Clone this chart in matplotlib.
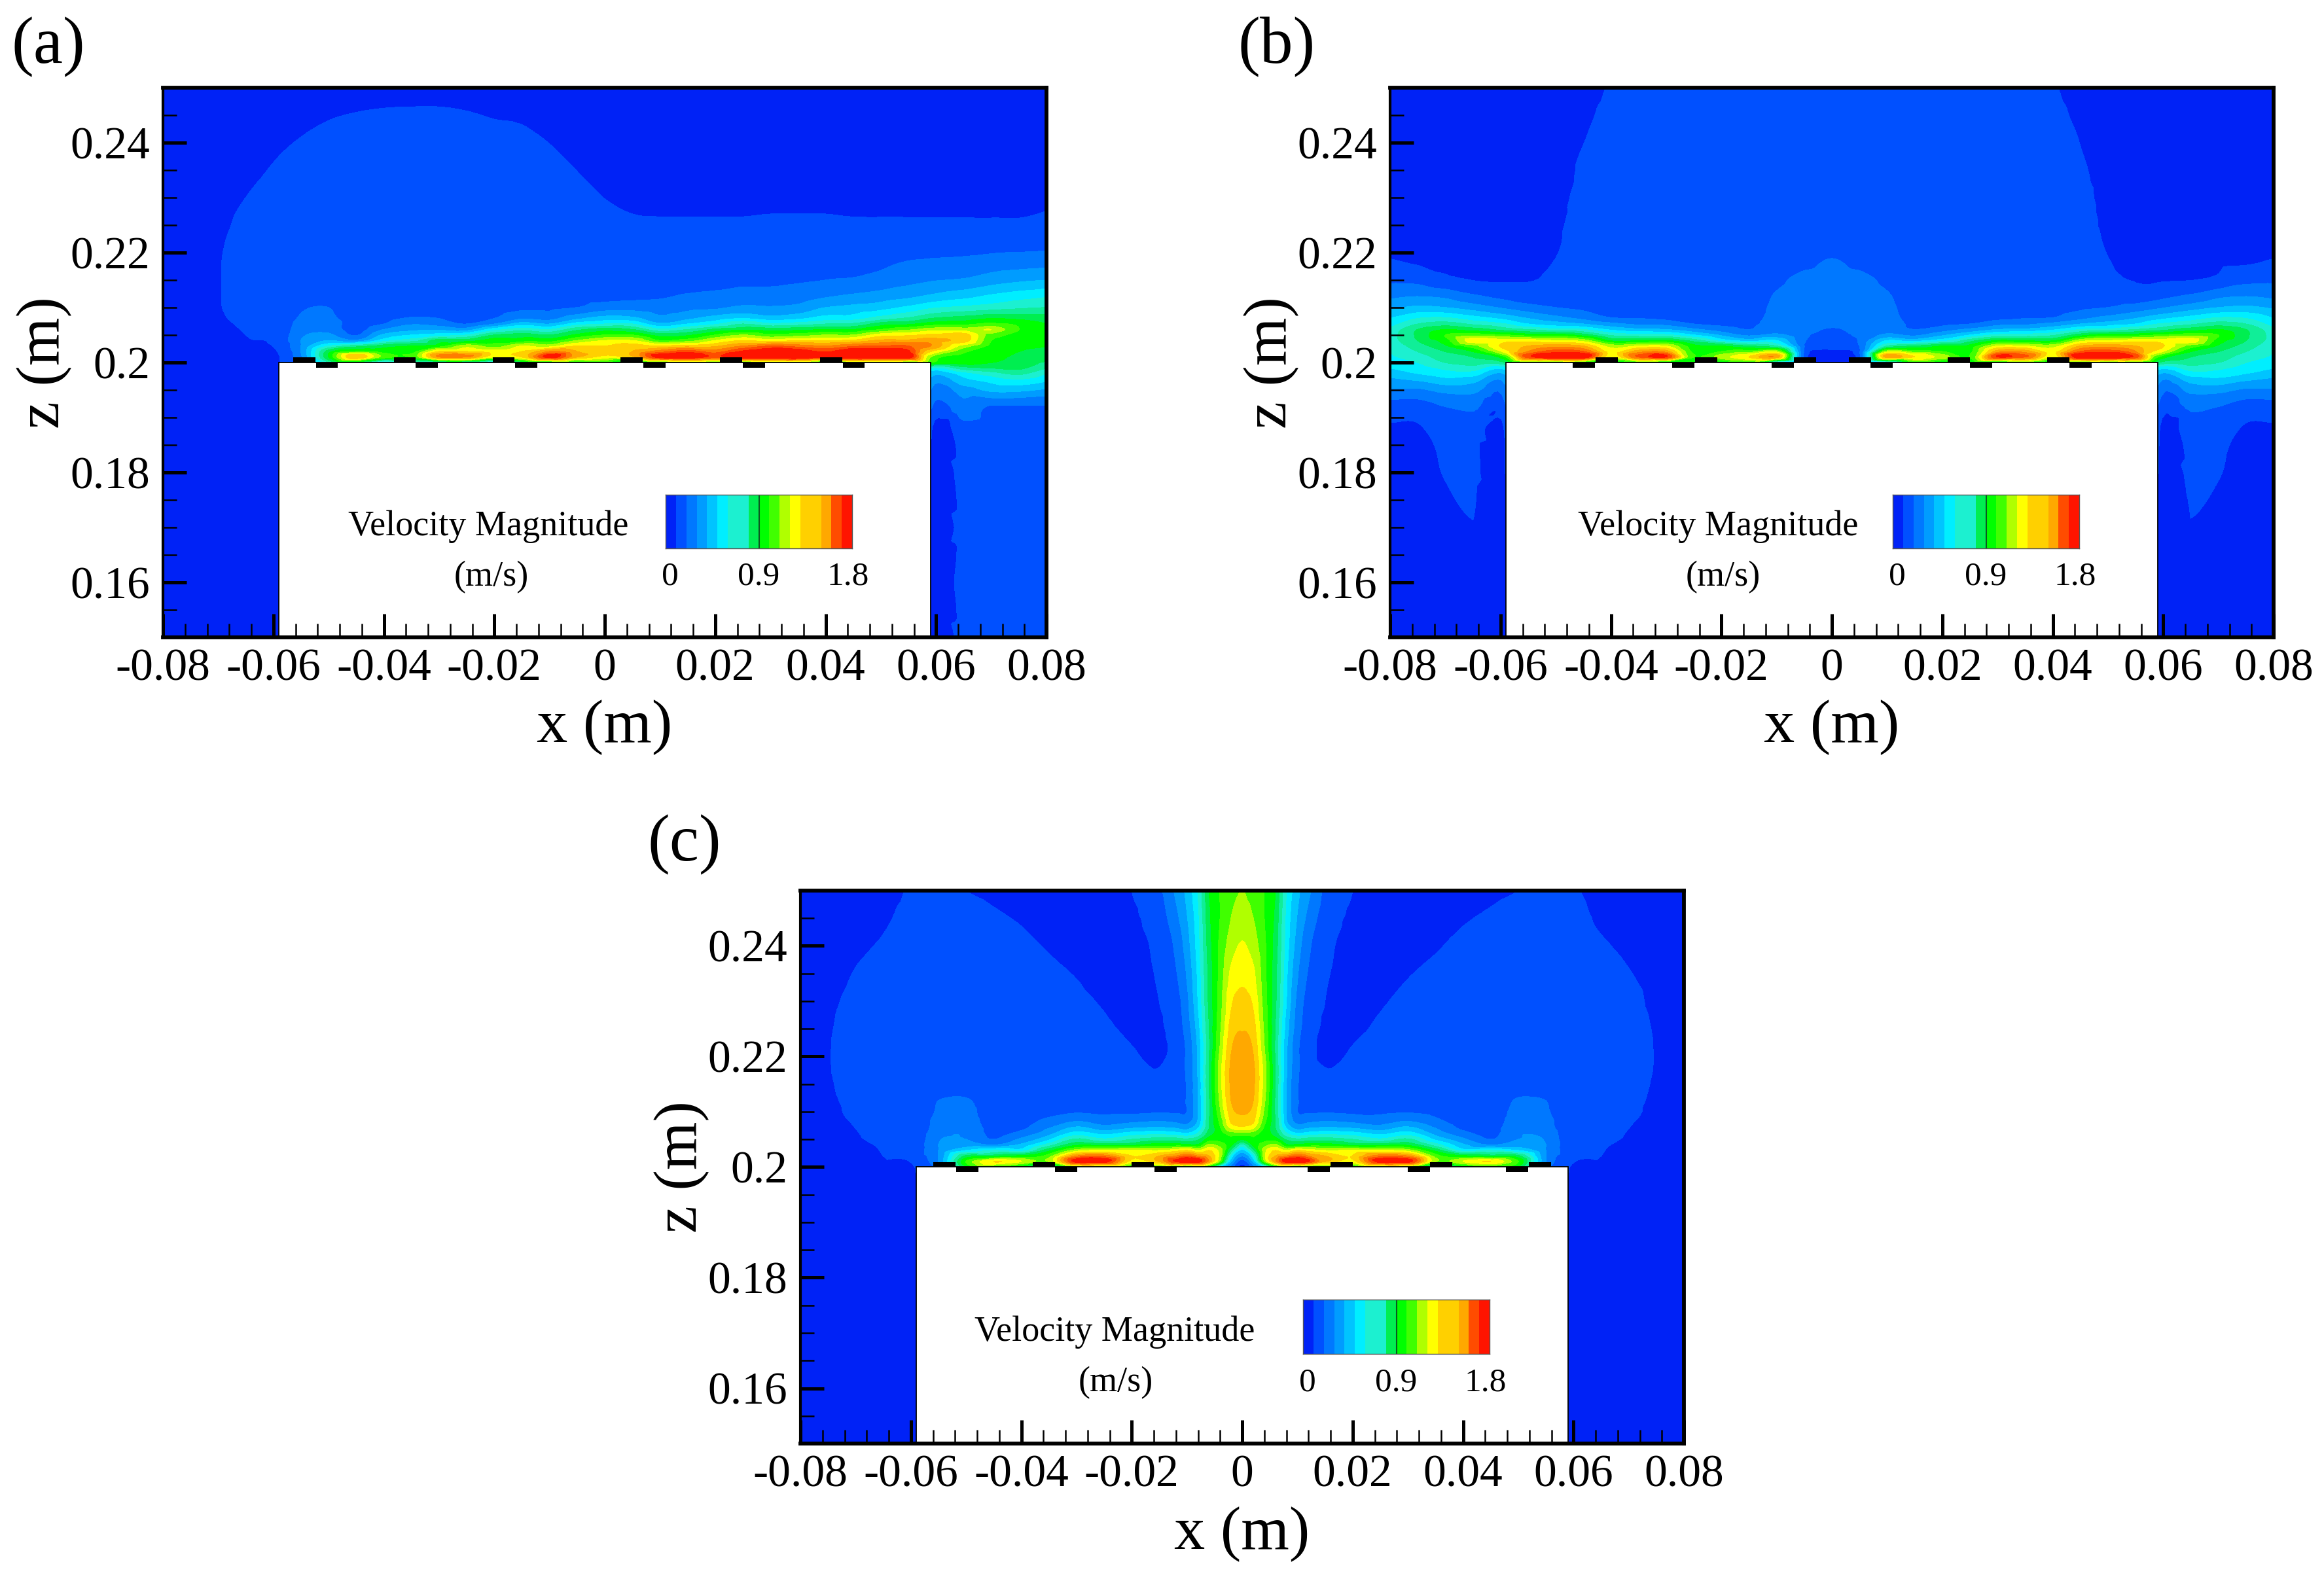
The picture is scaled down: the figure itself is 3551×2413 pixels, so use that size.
import numpy as np
import matplotlib
matplotlib.use('Agg')
import matplotlib.pyplot as plt
import matplotlib.tri as mtri
from matplotlib.colors import ListedColormap
from matplotlib.patches import Rectangle

plt.rcParams['font.family'] = ['Liberation Serif', 'DejaVu Serif']

# velocity bands (m/s), one colour per band
levels = [i / 10 for i in range(19)]
band_colors = ['#0022f6', '#0050ff', '#0078ff', '#009cff', '#00c4ff', '#00eeff',
               '#1cf0d0', '#10ee98', '#00ee50', '#00ff00', '#40ff00', '#b0ff00',
               '#ffff00', '#ffd000', '#ffa800', '#ff7c00', '#ff4c00', '#ff1400']

# heights above the plate, mm (z = 0.2 m + ...)
z_above = [0, 1, 2, 3, 4, 5, 6, 7, 8, 10, 12, 15, 18, 22, 26, 30, 35, 40, 45, 50]
z_below = [-1, -2, -3, -5, -8, -12, -20, -30, -40, -50]

# panel (a): columns of velocity, short columns keep their last value
x_a = [-80, -75, -70, -65, -59, -55, -50, -45, -40, -35, -30, -25, -20, -15, -10, -5, 0,
       5, 10, 15, 20, 25, 30, 35, 40, 45, 50, 55, 59, 65, 70, 75, 80]
vel_a = [
    [.05],
    [.05],
    [.05, .05, .055, .06, .07, .075, .08, .085, .09, .095, .095, .095, .095, .09, .08, .07, .06, .05],
    [.07, .08, .085, .09, .095, .1, .105, .11, .115, .12, .125, .13, .13, .125, .116, .1, .08, .06, .05],
    [.09, .095, .105, .12, .13, .135, .14, .14, .14, .14, .14, .145, .15, .15, .146, .13, .11, .09, .07, .05],
    [.25, .28, .3, .3, .3, .28, .25, .23, .21, .19, .16, .15, .15, .15, .15, .144, .124, .104, .084, .064],
    [.7, .9, .85, .6, .4, .32, .27, .25, .22, .2, .17, .15, .15, .15, .15, .15, .136, .116, .096, .076],
    [.85, 1.4, 1.0, .75, .32, .19, .15, .15, .15, .15, .15, .15, .15, .15, .15, .15, .142, .122, .102, .082],
    [.5, 1.05, .95, .85, .55, .42, .3, .2, .17, .15, .15, .15, .15, .15, .15, .15, .145, .125, .105, .085],
    [.6, 1.0, .95, .9, .65, .5, .37, .29, .21, .16, .15, .15, .15, .15, .15, .15, .146, .126, .106, .086],
    [.7, 1.5, 1.3, .95, .85, .55, .38, .26, .2, .16, .15, .15, .15, .15, .15, .15, .146, .126, .106, .086],
    [.7, 1.5, 1.3, 1.15, .85, .6, .35, .2, .17, .16, .15, .15, .15, .15, .15, .15, .143, .123, .103, .083],
    [.5, 1.2, 1.25, 1.05, .95, .8, .55, .3, .2, .16, .15, .15, .15, .15, .15, .15, .137, .117, .097, .077],
    [.8, 1.3, 1.3, 1.2, .95, .85, .65, .45, .29, .18, .16, .15, .15, .15, .15, .15, .133, .113, .093, .073],
    [.9, 1.75, 1.5, 1.15, .95, .8, .6, .4, .27, .18, .16, .15, .15, .15, .15, .139, .119, .099, .079, .059],
    [.9, 1.4, 1.4, 1.3, 1.1, .92, .77, .55, .38, .2, .17, .16, .15, .15, .135, .119, .099, .079, .059, .05],
    [1, 1.25, 1.35, 1.3, 1.2, 1.0, .85, .6, .45, .25, .17, .16, .15, .131, .115, .099, .079, .059, .05],
    [.8, 1.35, 1.4, 1.35, 1.2, 1.0, .8, .6, .43, .26, .18, .16, .136, .12, .104, .088, .068, .05],
    [1, 1.75, 1.55, 1.3, 1.0, .85, .62, .42, .33, .25, .19, .165, .14, .118, .102, .086, .066, .05],
    [1.05, 1.8, 1.65, 1.35, 1.05, .88, .7, .5, .38, .27, .21, .17, .14, .118, .102, .086, .066, .05],
    [1, 1.65, 1.55, 1.38, 1.2, 1.0, .82, .58, .45, .28, .22, .175, .145, .118, .102, .086, .066, .05],
    [1, 1.85, 1.72, 1.5, 1.3, 1.1, .87, .7, .5, .32, .24, .18, .15, .118, .102, .086, .066, .05],
    [1.05, 1.85, 1.8, 1.6, 1.25, 1.02, .85, .62, .45, .31, .24, .18, .15, .12, .104, .088, .068, .05],
    [1.1, 1.85, 1.78, 1.55, 1.28, 1.05, .87, .65, .48, .33, .25, .19, .155, .12, .104, .088, .068, .05],
    [.9, 1.75, 1.68, 1.5, 1.3, 1.1, .9, .7, .55, .4, .29, .2, .16, .12, .104, .088, .068, .05],
    [1.05, 1.85, 1.82, 1.58, 1.32, 1.1, .9, .72, .56, .43, .32, .21, .17, .12, .102, .086, .066, .05],
    [1.05, 1.85, 1.78, 1.6, 1.42, 1.25, 1.0, .85, .65, .46, .35, .23, .185, .125, .102, .086, .066, .05],
    [1, 1.78, 1.72, 1.6, 1.42, 1.28, 1.08, .88, .72, .52, .38, .27, .21, .13, .102, .086, .066, .05],
    [1, 1.1, 1.3, 1.5, 1.45, 1.32, 1.15, .95, .8, .58, .42, .29, .22, .14, .102, .086, .066, .05],
    [.95, .97, 1.02, 1.15, 1.35, 1.35, 1.15, .97, .85, .62, .47, .31, .23, .145, .102, .086, .066, .05],
    [.9, .93, .95, .97, 1, 1.05, 1.2, 1.02, .9, .65, .52, .35, .25, .15, .102, .086, .066, .05],
    [.85, .88, .9, .92, .95, .97, 1, .98, .88, .68, .56, .38, .26, .155, .102, .086, .066, .05],
    [.78, .85, .88, .9, .9, .92, .92, .9, .85, .7, .59, .4, .27, .16, .11, .09, .07, .05],
]
below_a = {
    -80: [.05], -75: [.05], -70: [.05], -65: [.05], -59: [.05],
    59: [.6, .45, .38, .3, .22, .12, .098],
    65: [.75, .55, .48, .35, .27, .17, .15],
    70: [.8, .65, .55, .42, .19, .16, .15],
    75: [.82, .72, .6, .42, .19, .16, .15],
    80: [.7, .6, .53, .38, .19, .16, .15],
}
step_up_a = [-54.4, -36.2, -18.3, 4.9, 22.9, 41]
step_down_a = [-50.3, -32.2, -14.2, 9, 27, 45.1]

# panel (b): right half, mirrored
x_b = [0, 5, 10, 15, 20, 25, 30, 35, 40, 45, 50, 55, 59, 65, 70, 75, 80]
vel_b = [
    [.06, .07, .09, .12, .15, .17, .19, .22, .24, .26, .26, .24, .21, .17, .15, .15, .15, .14, .14, .14],
    [.12, .16, .18, .2, .21, .22, .23, .24, .25, .25, .25, .23, .18, .16, .15, .15, .15, .14, .14, .14],
    [.5, 1.45, 1.15, .7, .5, .32, .27, .24, .23, .22, .21, .18, .16, .15, .15, .15, .14, .14, .14, .14],
    [1.0, 1.3, 1.05, .8, .45, .28, .2, .18, .17, .16, .15, .15, .15, .15, .15, .15, .14, .14, .14, .14],
    [.9, 1.15, 1.0, .9, .55, .38, .25, .18, .16, .15, .15, .15, .15, .15, .15, .15, .14, .14, .14, .14],
    [.9, 1.0, .97, .93, .75, .5, .32, .2, .17, .15, .15, .15, .15, .15, .15, .15, .15, .14, .14, .14],
    [.9, 1.7, 1.45, 1.2, .9, .62, .4, .27, .18, .15, .15, .15, .15, .15, .15, .15, .15, .14, .14, .135],
    [1.0, 1.6, 1.45, 1.2, .88, .64, .42, .28, .2, .16, .15, .15, .15, .15, .15, .15, .15, .145, .135, .125],
    [.85, 1.2, 1.25, 1.15, .88, .68, .48, .33, .21, .16, .15, .15, .15, .15, .15, .15, .15, .148, .128, .108],
    [.95, 1.8, 1.6, 1.4, 1.15, .85, .6, .4, .28, .18, .15, .15, .15, .15, .15, .138, .118, .098, .078, .058],
    [1.0, 1.85, 1.65, 1.45, 1.2, .95, .62, .45, .34, .2, .16, .116, .104, .088, .072, .06, .05],
    [1.0, 1.65, 1.5, 1.4, 1.25, .95, .7, .5, .4, .24, .14, .096, .084, .068, .052, .05],
    [.8, 1.0, 1.25, 1.35, 1.25, 1.0, .75, .6, .47, .28, .17, .092, .08, .064, .05],
    [.75, .8, .9, 1.05, 1.25, 1.05, .85, .68, .55, .35, .22, .098, .08, .064, .05],
    [.7, .75, .8, .88, .95, 1.0, .9, .75, .62, .4, .28, .12, .09, .07, .05],
    [.6, .65, .7, .75, .8, .82, .8, .7, .6, .42, .3, .17, .095, .075, .055, .05],
    [.55, .58, .6, .62, .65, .65, .62, .55, .5, .38, .28, .18, .11, .085, .07, .05],
]
below_b = {
    59: [.55, .42, .35, .27, .2, .13, .11, .095, .05],
    65: [.65, .55, .45, .33, .22, .16, .125, .095, .05],
    70: [.62, .55, .48, .33, .2, .145, .105, .07, .05],
    75: [.55, .5, .42, .28, .15, .09, .06, .05],
    80: [.5, .45, .38, .28, .15, .09, .06, .05],
}
step_up_b = [-40.8, -22.8, -4.9, 5.1, 23, 41]
step_down_b = [-44.9, -26.9, -8.9, 9, 27, 45]

# panel (c): right half, mirrored
x_c = [0, 2, 4, 6, 8, 10, 12, 15, 20, 25, 30, 35, 40, 45, 50, 55, 59, 65, 70, 75, 80]
vel_c = [
    [.05, .15, .3, .45, .65, .9, 1.05, 1.25, 1.35, 1.41, 1.45, 1.47, 1.47, 1.43, 1.38, 1.33, 1.27, 1.21, 1.16, 1.1],
    [.25, .4, .55, .75, .92, .98, 1.03, 1.2, 1.3, 1.36, 1.4, 1.42, 1.42, 1.38, 1.33, 1.28, 1.22, 1.15, 1.1, 1.05],
    [.5, 1.05, 1.15, 1.15, 1.05, .97, .95, .98, 1.02, 1.08, 1.12, 1.15, 1.15, 1.1, 1.07, 1.05, 1.03, 1.02, 1.0, 1.0],
    [.9, 1.45, 1.4, 1.3, 1.12, .95, .85, .8, .8, .78, .78, .8, .8, .78, .8, .82, .83, .85, .87, .9],
    [1.0, 1.75, 1.5, 1.2, .92, .78, .62, .5, .42, .4, .4, .4, .41, .42, .46, .5, .52, .55, .57, .6],
    [.9, 1.8, 1.6, 1.3, .92, .72, .52, .37, .28, .2, .21, .21, .22, .22, .25, .27, .31, .35, .39, .43],
    [.95, 1.7, 1.5, 1.25, .95, .75, .55, .4, .3, .19, .14, .13, .13, .13, .15, .16, .19, .22, .27, .32],
    [1.0, 1.4, 1.4, 1.2, .95, .75, .58, .42, .32, .19, .14, .115, .1, .085, .09, .1, .115, .13, .15, .18],
    [.95, 1.25, 1.3, 1.22, .87, .7, .55, .4, .3, .18, .14, .13, .116, .1, .084, .068, .06, .07, .085, .1],
    [1.05, 1.75, 1.55, 1.2, .87, .62, .48, .35, .27, .18, .14, .135, .135, .124, .108, .092, .072, .06, .05, .05],
    [1.05, 1.75, 1.5, 1.15, .88, .72, .55, .43, .32, .19, .14, .135, .135, .135, .132, .116, .096, .076, .056, .05],
    [.6, 1.1, 1.05, .87, .65, .48, .37, .3, .24, .17, .14, .135, .135, .135, .135, .134, .114, .094, .074, .054],
    [.85, 1.2, .92, .55, .42, .32, .24, .18, .16, .14, .14, .135, .135, .135, .135, .135, .134, .114, .094, .074],
    [1.0, 1.3, .85, .6, .3, .2, .17, .16, .15, .14, .14, .135, .135, .135, .135, .135, .135, .128, .108, .088],
    [.9, 1.0, .82, .5, .35, .3, .29, .27, .25, .23, .21, .15, .14, .135, .135, .135, .135, .135, .12, .1],
    [.25, .3, .3, .3, .3, .29, .27, .24, .23, .21, .2, .14, .14, .14, .14, .14, .135, .135, .13, .12],
    [.105, .12, .15, .16, .15, .14, .14, .14, .14, .14, .14, .14, .14, .14, .14, .14, .135, .135, .13, .115],
    [.09, .096, .1, .105, .11, .115, .12, .125, .13, .135, .135, .135, .135, .135, .135, .135, .128, .108, .088, .068],
    [.05, .06, .065, .07, .08, .092, .096, .1, .104, .112, .12, .13, .13, .13, .13, .124, .104, .084, .064, .05],
    [.05, .05, .05, .055, .06, .065, .07, .075, .08, .085, .085, .09, .095, .095, .09, .08, .07, .05],
    [.05],
]
below_c = {
    59: [.102, .098, .09, .07, .05], 65: [.05], 70: [.05], 75: [.05], 80: [.05],
}
step_up_c = [-53.9, -35.9, -18, 18, 36, 53.9]
step_down_c = [-49.8, -31.9, -13.9, 13.9, 32, 49.8]

x_major = [-0.08, -0.06, -0.04, -0.02, 0, 0.02, 0.04, 0.06, 0.08]
x_labels = ['-0.08', '-0.06', '-0.04', '-0.02', '0', '0.02', '0.04', '0.06', '0.08']
z_major = [0.16, 0.18, 0.2, 0.22, 0.24]
z_labels = ['0.16', '0.18', '0.2', '0.22', '0.24']
bar_ticks = ['0', '0.9', '1.8']


def pad(col, n):
    return list(col) + [col[-1]] * (n - len(col))


def build_field(xs, vel, below, mirror):
    xs = list(xs)
    above = [pad(c, len(z_above)) for c in vel]
    under = []
    for x, c in zip(xs, above):
        # inside the plate nothing is visible, keep the wall value there
        under.append(pad(below[x], len(z_below)) if x in below else [c[0]] * len(z_below))
    if mirror:
        xs = [-x for x in xs[:0:-1]] + xs
        above = above[:0:-1] + above
        under = under[:0:-1] + under
    zs = z_below[::-1] + z_above
    v = np.array([u[::-1] + a for u, a in zip(under, above)])
    return np.array(xs) / 1000, 0.2 + np.array(zs) / 1000, v


def draw_panel(ax, xs, vel, below, mirror, step_up, step_down, title_x, unit_x):
    x, z, v = build_field(xs, vel, below, mirror)
    X, Z = np.meshgrid(x, z, indexing='ij')
    tri = mtri.Triangulation(X.ravel() * 1000, Z.ravel() * 1000)
    interp = mtri.CubicTriInterpolator(tri, v.ravel(), kind='geom')
    refiner = mtri.UniformTriRefiner(tri)
    tri2, v2 = refiner.refine_field(v.ravel(), triinterpolator=interp, subdiv=3)
    fine = mtri.Triangulation(tri2.x / 1000, tri2.y / 1000, tri2.triangles)
    v2 = np.clip(v2, 0.005, 1.795)
    cs = ax.tricontourf(fine, v2, levels=levels, colors=band_colors, zorder=1)
    cs.set_edgecolor('face')
    cs.set_linewidth(0.3)

    # plate
    ax.add_patch(Rectangle((-0.059, 0.15), 0.118, 0.05, facecolor='white', edgecolor='black',
                           linewidth=1.3, zorder=1.2))
    for s in step_up:
        ax.add_patch(Rectangle(((s - 2) / 1000, 0.2), 0.004, 0.0009, color='black', lw=0, zorder=1.4))
    for s in step_down:
        ax.add_patch(Rectangle(((s - 2) / 1000, 0.2 - 0.0009), 0.004, 0.0009, color='black', lw=0, zorder=1.4))

    ax.set_xlim(-0.08, 0.08)
    ax.set_ylim(0.15, 0.25)
    ax.set_axisbelow(False)
    ax.set_xticks(x_major, x_labels)
    ax.set_yticks(z_major, z_labels)
    ax.set_xticks(np.arange(-80, 81, 4) / 1000, minor=True)
    ax.set_yticks(np.arange(150, 251, 5) / 1000, minor=True)
    ax.tick_params(which='major', direction='in', length=26, width=3.6, labelsize=50)
    ax.tick_params(axis='x', which='major', pad=12)
    ax.tick_params(axis='y', which='major', pad=14)
    ax.tick_params(which='minor', direction='in', length=15, width=1.8)
    for side in ax.spines:
        ax.spines[side].set_linewidth(4.2)
        ax.spines[side].set_zorder(5)
    ax.spines['left'].set_linewidth(3)
    ax.set_xlabel('x (m)', fontsize=68)
    ax.xaxis.set_label_coords(0.5, -138 / 840)
    ax.xaxis.label.set_va('center')
    ax.set_ylabel('z (m)', fontsize=68)
    ax.yaxis.set_label_coords(-181 / 1350, 0.5)
    ax.yaxis.label.set_va('center')

    # legend inside the plate
    ax.text(title_x, 0.202, 'Velocity Magnitude', transform=ax.transAxes, fontsize=39,
            ha='center', va='center', zorder=6)
    ax.text(unit_x, 0.11, '(m/s)', transform=ax.transAxes, fontsize=39,
            ha='center', va='center', zorder=6)
    for px, lab in zip([0.574, 0.674, 0.775], bar_ticks):
        ax.text(px, 0.11, lab, transform=ax.transAxes, fontsize=37,
                ha='center', va='center', zorder=6)
    cax = ax.inset_axes([0.569, 0.162, 0.211, 0.098], zorder=6)
    cax.pcolormesh(levels, [0, 1], np.array(levels[:-1])[None, :], cmap=ListedColormap(band_colors),
                   vmin=0, vmax=1.8)
    cax.axvline(0.9, color='#0a5a20', lw=1.5)
    cax.set_xticks([])
    cax.set_yticks([])
    for side in cax.spines:
        cax.spines[side].set_linewidth(1)
        cax.spines[side].set_color('#555555')


W, H = 3551, 2413
fig = plt.figure(figsize=(W / 100, H / 100), dpi=100, facecolor='white')


def panel_axes(left, top, height):
    return fig.add_axes([left / W, 1 - (top + height) / H, 1350 / W, height / H])


ax_a = panel_axes(249, 134, 840)
ax_b = panel_axes(2124, 134, 840)
ax_c = panel_axes(1223, 1361, 845)
draw_panel(ax_a, x_a, vel_a, below_a, False, step_up_a, step_down_a, 0.368, 0.372)
draw_panel(ax_b, x_b, vel_b, below_b, True, step_up_b, step_down_b, 0.371, 0.377)
draw_panel(ax_c, x_c, vel_c, below_c, True, step_up_c, step_down_c, 0.356, 0.357)

fig.text(18 / W, 1 - 72 / H, '(a)', fontsize=73, ha='left', va='center')
fig.text(1891 / W, 1 - 72 / H, '(b)', fontsize=73, ha='left', va='center')
fig.text(990 / W, 1 - 1291 / H, '(c)', fontsize=73, ha='left', va='center')

fig.savefig('out.png', dpi=100)
